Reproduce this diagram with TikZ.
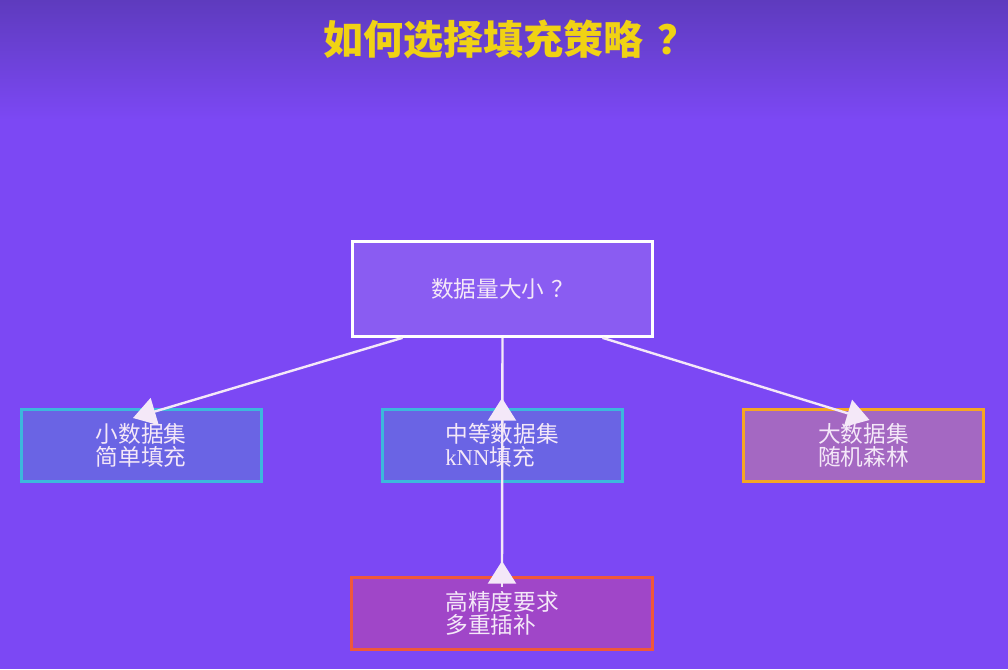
\documentclass[tikz,border=0pt]{standalone}
\usepackage{fontspec}
\newfontfamily\cjk{Noto Sans CJK SC}
\newfontfamily\latinserif{Liberation Serif}
\usetikzlibrary{arrows.meta,calc}
\definecolor{bgtop}{HTML}{5E3BBE}
\definecolor{bgmain}{HTML}{7C48F4}
\definecolor{titleyellow}{HTML}{F0D214}
\definecolor{softwhite}{HTML}{F4E8F8}
\definecolor{topfill}{HTML}{8A5CF2}
\definecolor{bluefill}{HTML}{6A64E4}
\definecolor{cyanline}{HTML}{3CB8DC}
\definecolor{mauvefill}{HTML}{A468C2}
\definecolor{orangeline}{HTML}{F5A623}
\definecolor{plumfill}{HTML}{A046C8}
\definecolor{redline}{HTML}{F0583A}
\begin{document}
\begin{tikzpicture}[x=0.75pt,y=0.75pt,
    box/.style={draw, line width=2.25pt, minimum width=180pt, minimum height=54pt,
      text=softwhite, align=left, font=\cjk\fontsize{17}{17.5}\selectfont},
    wire/.style={softwhite, line width=1.8pt},
    arr/.style={wire, -{Triangle[width=21pt,length=17pt]}}]
    \useasboundingbox (0,0) rectangle (1008,669);
    % Background
    \fill[bgmain] (0,0) rectangle (1008,669);
    \shade[top color=bgtop, bottom color=bgmain] (0,549) rectangle (1008,669);
    % Title
    \node[titleyellow, font=\cjk\bfseries\fontsize{30}{34}\selectfont] (title) at (510,630) {如何选择填充策略\hspace{0.35em}？};
    % Question box
    \node[box, draw=white, fill=topfill, minimum width=225pt, minimum height=71pt, align=center] (size) at (502.5,380) {数据量大小\hspace{0.3em}？};
    % Answers
    \node[box, draw=cyanline, fill=bluefill] (small) at (141,223.5) {小数据集\\简单填充};
    \node[box, draw=cyanline, fill=bluefill] (medium) at (502,223.5) {中等数据集\\{\latinserif kNN}填充};
    \node[box, draw=orangeline, fill=mauvefill] (large) at (863.5,223.5) {大数据集\\随机森林};
    \node[box, draw=redline, fill=plumfill, minimum width=226pt] (precise) at (502,55.5) {高精度要求\\多重插补};
    % Connectors
    \draw[arr] ($(size.south)+(-100,0)$) -- ($(small.north)+(-8,-10)$);
    \draw[arr] ($(size.south)+(100,0)$) -- ($(large.north)+(6,-12)$);
    \draw[wire] (size.south) -- (precise.north);
    \draw[arr] (medium.south) -- ($(medium.north)+(0,10)$);
    \draw[arr] ($(precise.north)+(0,-11)$) -- ($(precise.north)+(0,15)$);
\end{tikzpicture}
\end{document}
